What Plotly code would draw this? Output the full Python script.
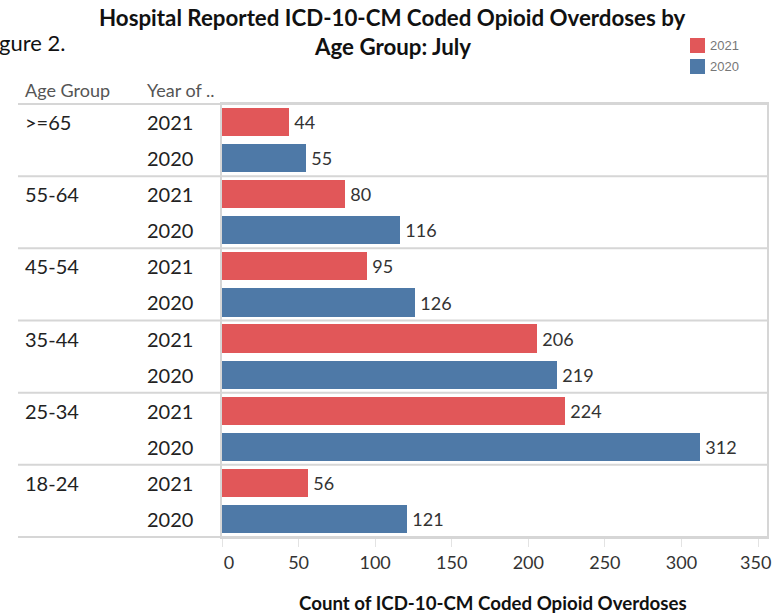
import plotly.graph_objects as go

# ---------------- data ----------------
age_groups = [">=65", "55-64", "45-54", "35-44", "25-34", "18-24"]
years = ["2021", "2020"]
values_2021 = [44, 80, 95, 206, 224, 56]
values_2020 = [55, 116, 126, 219, 312, 121]
x_ticks = [0, 50, 100, 150, 200, 250, 300, 350]

title_line1 = "Hospital Reported ICD-10-CM Coded Opioid Overdoses by"
title_line2 = "Age Group: July"
x_title = "Count of ICD-10-CM Coded Opioid Overdoses"

# ---------------- style ----------------
W, H = 778, 616
ML, MR, MT, MB = 222, 11, 104, 79
PW, PH = W - ML - MR, H - MT - MB
RED = "#E15759"
BLUE = "#4E79A7"
SEP = "#d6d6d6"
FONT = "Lato"
NB = "\u00a0"


def px(x):
    return (x - ML) / PW


def py(y):
    return (H - MB - y) / PH


n_rows = len(age_groups) * len(years)
rows_2021 = [2 * i for i in range(len(age_groups))]
rows_2020 = [2 * i + 1 for i in range(len(age_groups))]

fig = go.Figure()
for vals, rows, name, col in [(values_2021, rows_2021, "2021", RED),
                              (values_2020, rows_2020, "2020", BLUE)]:
    fig.add_trace(go.Bar(
        x=vals, y=rows, orientation="h", name=name,
        marker=dict(color=col, line=dict(width=0)), width=0.78,
        texttemplate="\u2009%{x}", textposition="outside",
        textfont=dict(family=FONT, size=18, color="#333333"),
        cliponaxis=False, constraintext="none", showlegend=False,
    ))

x_max = 350 * PW / 536.0

shapes = []
# header line and group separators
for k in range(len(age_groups) + 1):
    yy = 1 - (2 * k) / n_rows
    shapes.append(dict(type="line", xref="paper", yref="paper",
                       x0=px(18), x1=1, y0=yy, y1=yy,
                       line=dict(color=SEP, width=2)))
# legend squares
legend_items = [("2021", RED, 38), ("2020", BLUE, 59)]
annotations = []
for lab, col, top in legend_items:
    shapes.append(dict(type="rect", xref="paper", yref="paper",
                       x0=px(690), x1=px(705), y0=py(top + 15), y1=py(top),
                       fillcolor=col, line=dict(width=0)))
    annotations.append(dict(text=lab, xref="paper", yref="paper",
                            x=px(708), y=py(top + 7.5), xanchor="left", yanchor="middle",
                            showarrow=False,
                            font=dict(family="Liberation Sans", size=13, color="#777777")))

# row labels
for i, ag in enumerate(age_groups):
    annotations.append(dict(text=ag, xref="paper", yref="y", x=px(23), y=2 * i,
                            xanchor="left", yanchor="middle", showarrow=False,
                            font=dict(family=FONT, size=20, color="#222222")))
    for j, yr in enumerate(years):
        annotations.append(dict(text=yr, xref="paper", yref="y", x=px(145), y=2 * i + j,
                                xanchor="left", yanchor="middle", showarrow=False,
                                font=dict(family=FONT, size=20, color="#222222")))

# headers
annotations.append(dict(text="Age Group", xref="paper", yref="paper", x=px(23), y=py(90),
                        xanchor="left", yanchor="middle", showarrow=False,
                        font=dict(family=FONT, size=18, color="#555555")))
annotations.append(dict(text="Year of ..", xref="paper", yref="paper", x=px(145), y=py(90),
                        xanchor="left", yanchor="middle", showarrow=False,
                        font=dict(family=FONT, size=18, color="#555555")))

# titles
annotations.append(dict(text="<b>" + title_line1 + "</b>", xref="paper", yref="paper",
                        x=px(392), y=py(18), xanchor="center", yanchor="middle", showarrow=False,
                        font=dict(family=FONT, size=22.3, color="#111111")))
annotations.append(dict(text="<b>" + title_line2 + "</b>", xref="paper", yref="paper",
                        x=px(392), y=py(47), xanchor="center", yanchor="middle", showarrow=False,
                        font=dict(family=FONT, size=22.3, color="#111111")))
annotations.append(dict(text="gure 2.", xref="paper", yref="paper",
                        x=px(-3), y=py(42), xanchor="left", yanchor="middle", showarrow=False,
                        font=dict(family=FONT, size=22, color="#111111")))
# x axis title
annotations.append(dict(text="<b>" + x_title + "</b>", xref="paper", yref="paper",
                        x=px(493), y=py(603), xanchor="center", yanchor="middle", showarrow=False,
                        font=dict(family=FONT, size=18.7, color="#111111")))

# tick labels: first and last nudged inward like the original
tick_text = [str(t) for t in x_ticks]
tick_text[0] = NB * 3 + tick_text[0]
tick_text[-1] = tick_text[-1] + NB

fig.update_layout(
    width=W, height=H,
    margin=dict(l=ML, r=MR, t=MT, b=MB, pad=0, autoexpand=False),
    paper_bgcolor="white", plot_bgcolor="white",
    bargap=0, showlegend=False,
    shapes=shapes, annotations=annotations,
    xaxis=dict(range=[0, x_max], tickvals=x_ticks, ticktext=tick_text,
               showgrid=False, zeroline=False, showline=True, mirror=True,
               linecolor=SEP, linewidth=2, ticks="outside", ticklen=8, tickcolor="#e3e3e3",
               tickwidth=1, ticklabelstandoff=0, automargin=False,
               tickfont=dict(family=FONT, size=18, color="#333333"), fixedrange=True),
    yaxis=dict(range=[n_rows - 0.5, -0.5], showticklabels=False, showgrid=False,
               zeroline=False, showline=True, mirror=True, linecolor=SEP, linewidth=2,
               ticks="", fixedrange=True, automargin=False),
)

fig.write_html("out.html", post_script="document.body.style.margin='0px';",
               config={"displayModeBar": False})
